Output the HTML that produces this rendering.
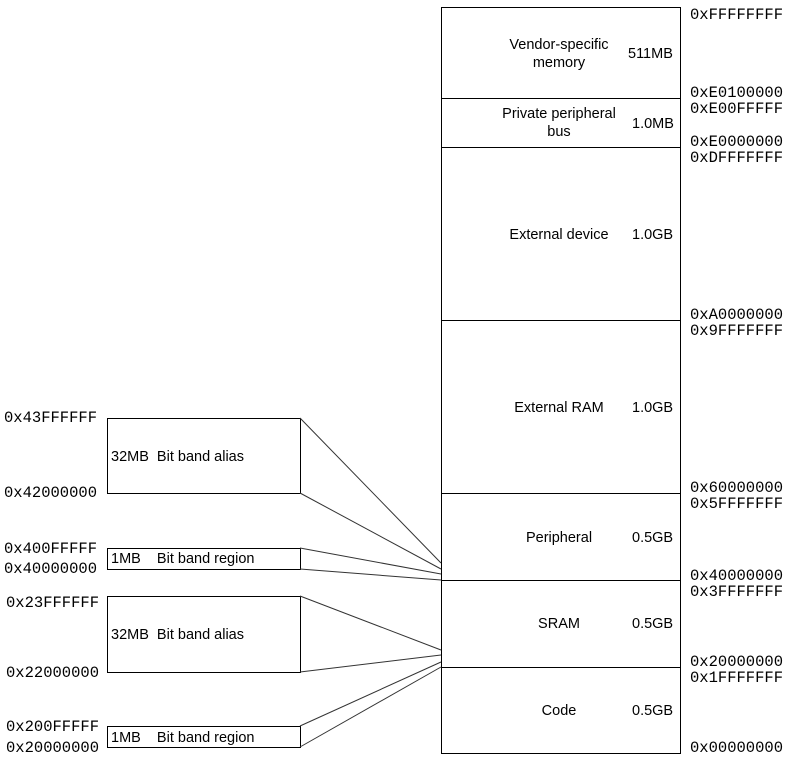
<!DOCTYPE html>
<html><head><meta charset="utf-8"><style>
body{margin:0;background:#fff;}
svg text{font-family:"Liberation Sans",sans-serif;font-size:14.5px;fill:#000;white-space:pre;}
svg text.h{font-family:"Liberation Mono",monospace;font-size:15.5px;}
</style></head><body>
<svg width="786" height="758" viewBox="0 0 786 758" xmlns="http://www.w3.org/2000/svg">
<g fill="none" stroke="#000" stroke-width="1">
<rect x="441.5" y="7.5" width="239" height="746"/>
<line x1="441" y1="98.5" x2="680" y2="98.5"/>
<line x1="441" y1="147.5" x2="680" y2="147.5"/>
<line x1="441" y1="320.5" x2="680" y2="320.5"/>
<line x1="441" y1="493.5" x2="680" y2="493.5"/>
<line x1="441" y1="580.5" x2="680" y2="580.5"/>
<line x1="441" y1="667.5" x2="680" y2="667.5"/>
<rect x="107.5" y="418.5" width="193" height="75"/>
<rect x="107.5" y="548.5" width="193" height="21"/>
<rect x="107.5" y="596.5" width="193" height="76"/>
<rect x="107.5" y="726.5" width="193" height="21"/>
</g>
<g stroke="#333" stroke-width="1">
<line x1="300" y1="418" x2="441" y2="563"/>
<line x1="300" y1="493" x2="441" y2="569"/>
<line x1="300" y1="548" x2="441" y2="574"/>
<line x1="300" y1="569" x2="441" y2="580"/>
<line x1="300" y1="596" x2="441" y2="650"/>
<line x1="300" y1="672" x2="441" y2="655"/>
<line x1="300" y1="726" x2="441" y2="662"/>
<line x1="300" y1="747" x2="441" y2="667"/>
</g>
<text x="559" y="49" text-anchor="middle">Vendor-specific</text>
<text x="559" y="67" text-anchor="middle">memory</text>
<text x="628" y="58">511MB</text>
<text x="559" y="118" text-anchor="middle">Private peripheral</text>
<text x="559" y="136" text-anchor="middle">bus</text>
<text x="632" y="128">1.0MB</text>
<text x="559" y="239" text-anchor="middle">External device</text>
<text x="632" y="239">1.0GB</text>
<text x="559" y="412" text-anchor="middle">External RAM</text>
<text x="632" y="412">1.0GB</text>
<text x="559" y="542" text-anchor="middle">Peripheral</text>
<text x="632" y="542">0.5GB</text>
<text x="559" y="628" text-anchor="middle">SRAM</text>
<text x="632" y="628">0.5GB</text>
<text x="559" y="715" text-anchor="middle">Code</text>
<text x="632" y="715">0.5GB</text>
<text x="111" y="461" xml:space="preserve">32MB  Bit band alias</text>
<text x="111" y="563" xml:space="preserve">1MB    Bit band region</text>
<text x="111" y="639" xml:space="preserve">32MB  Bit band alias</text>
<text x="111" y="742" xml:space="preserve">1MB    Bit band region</text>
<g>
<text class="h" x="690" y="19">0xFFFFFFFF</text>
<text class="h" x="690" y="97">0xE0100000</text>
<text class="h" x="690" y="113">0xE00FFFFF</text>
<text class="h" x="690" y="146">0xE0000000</text>
<text class="h" x="690" y="162">0xDFFFFFFF</text>
<text class="h" x="690" y="319">0xA0000000</text>
<text class="h" x="690" y="335">0x9FFFFFFF</text>
<text class="h" x="690" y="492">0x60000000</text>
<text class="h" x="690" y="508">0x5FFFFFFF</text>
<text class="h" x="690" y="580">0x40000000</text>
<text class="h" x="690" y="596">0x3FFFFFFF</text>
<text class="h" x="690" y="666">0x20000000</text>
<text class="h" x="690" y="682">0x1FFFFFFF</text>
<text class="h" x="690" y="752">0x00000000</text>
<text class="h" x="4" y="422">0x43FFFFFF</text>
<text class="h" x="4" y="497">0x42000000</text>
<text class="h" x="4" y="553">0x400FFFFF</text>
<text class="h" x="4" y="573">0x40000000</text>
<text class="h" x="6" y="607">0x23FFFFFF</text>
<text class="h" x="6" y="677">0x22000000</text>
<text class="h" x="6" y="731">0x200FFFFF</text>
<text class="h" x="6" y="752">0x20000000</text>
</g>
</svg>
</body></html>
